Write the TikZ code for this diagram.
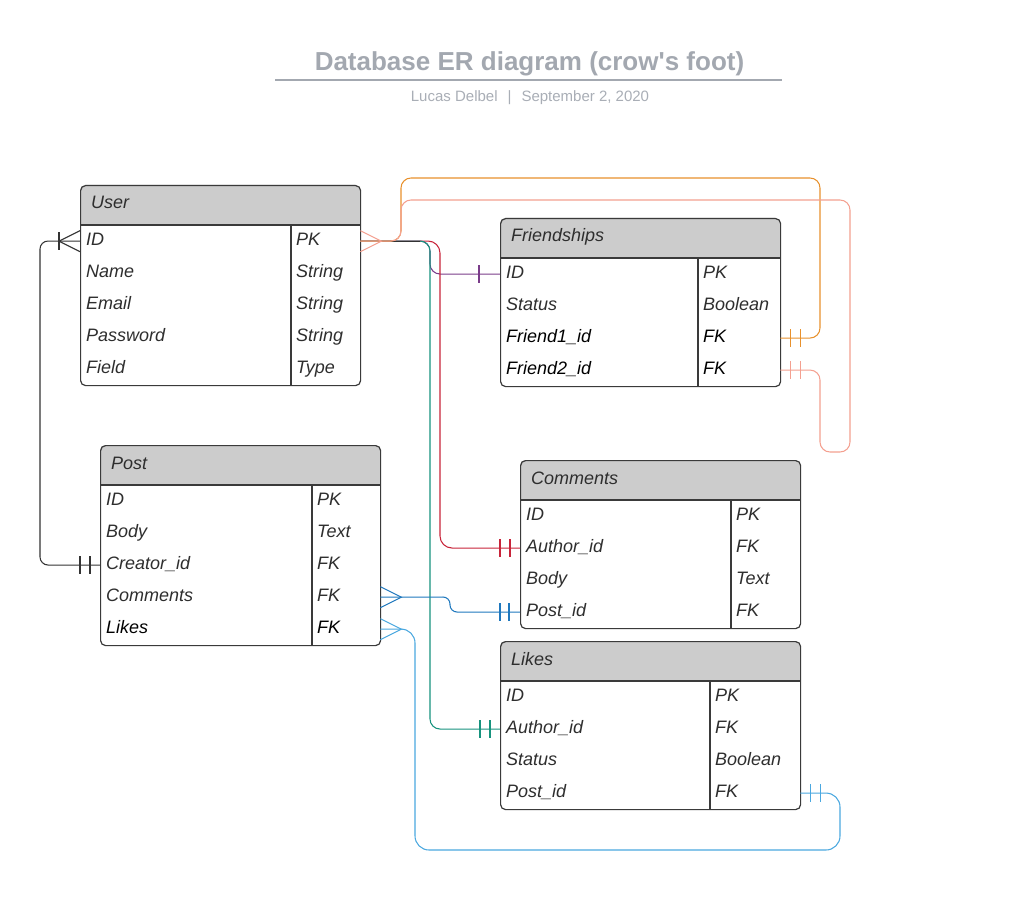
\documentclass[tikz,border=0pt]{standalone}
\usepackage{fontspec}
\setmainfont{Liberation Sans}
\usetikzlibrary{calc}
\definecolor{ink}{HTML}{2E2E2E}
\definecolor{headfill}{HTML}{CCCCCC}
\definecolor{frame}{HTML}{3A3A3A}
\definecolor{titlegray}{HTML}{A3A8B0}
\definecolor{subgray}{HTML}{A9AEB6}
\definecolor{corange}{HTML}{E8912D}
\definecolor{csalmon}{HTML}{F4A090}
\definecolor{cteal}{HTML}{17937E}
\definecolor{cred}{HTML}{C8243A}
\definecolor{cpurple}{HTML}{7A3C8A}
\definecolor{cblue}{HTML}{1F78BE}
\definecolor{clblue}{HTML}{4AA8E0}
\definecolor{cdark}{HTML}{333333}
\tikzset{
  tableframe/.style={draw=frame, line width=1.2pt, rounded corners=5pt, inner sep=0pt},
  tablerule/.style={draw=frame, line width=1.1pt},
  rowcell/.style={inner sep=0pt, minimum height=32pt},
  headtext/.style={inner sep=0pt, text=ink, font=\fontsize{18}{20}\selectfont\itshape},
  celltext/.style={inner sep=0pt, font=\fontsize{18}{20}\selectfont\itshape},
  conn/.style={line width=1.05pt},
  darkline/.style={conn, draw=cdark},
  orangeline/.style={conn, draw=corange},
  salmonline/.style={conn, draw=csalmon},
  tealline/.style={conn, draw=cteal},
  redline/.style={conn, draw=cred},
  purpleline/.style={conn, draw=cpurple},
  blueline/.style={conn, draw=cblue},
  lblueline/.style={conn, draw=clblue},
}
% #1 name, #2 x left, #3 y top, #4 width, #5 divider x, #6 number of rows, #7 header, #8 rows
\newcommand{\ertable}[8]{%
  \pgfmathsetmacro\ertxr{#2+#4}%
  \pgfmathsetmacro\ertyh{#3+40}%
  \pgfmathsetmacro\ertyb{#3+40+32*#6}%
  \pgfmathsetmacro\erth{40+32*#6}%
  \fill[white, rounded corners=5pt] (#2,#3) rectangle (\ertxr,\ertyb);
  \fill[headfill, rounded corners=5pt] (#2,#3) rectangle (\ertxr,\ertyh);
  \fill[headfill] (#2,{\ertyh-7}) rectangle (\ertxr,\ertyh);
  \node[tableframe, minimum width=#4pt, minimum height=\erth pt, anchor=north west] (#1) at (#2,#3) {};
  \draw[tablerule] (#2,\ertyh) -- (\ertxr,\ertyh);
  \draw[tablerule] (#5,\ertyh) -- (#5,\ertyb);
  \node[headtext, anchor=base west] (#1-head) at ({#2+11},{#3+24}) {#7};
  \foreach[count=\i] \f/\t/\c in {#8} {
    \pgfmathsetmacro\ertrow{#3+40+32*(\i-1)}
    \node[rowcell, minimum width=#4pt, anchor=north west] (#1-\i) at (#2,\ertrow) {};
    \node[celltext, text=\c, anchor=base west] (#1-\i-f) at ({#2+6},{\ertrow+20.5}) {\f};
    \node[celltext, text=\c, anchor=base west] (#1-\i-t) at ({#5+5},{\ertrow+20.5}) {\t};
  }%
}
% one vertical bar: #1 style, #2 xshift, #3 anchor
\newcommand{\onebar}[3]{\draw[#1] ([xshift=#2pt,yshift=9pt]#3) -- ([xshift=#2pt,yshift=-9pt]#3);}
% crow's foot: #1 style, #2 xshift of the tip, #3 anchor
\newcommand{\crowfoot}[3]{\draw[#1] ([yshift=10.5pt]#3) -- ([xshift=#2pt]#3) -- ([yshift=-10.5pt]#3);}
\begin{document}
\begin{tikzpicture}[x=1pt,y=-1pt]
\useasboundingbox (0,0) rectangle (1014,909);
\fill[white] (0,0) rectangle (1014,909);

% title
\node[inner sep=0pt, anchor=base, text=titlegray, font=\fontsize{26}{30}\selectfont\bfseries] (title) at (529.5,71) {Database ER diagram (crow\textquotesingle s foot)};
\coordinate (ulL) at (275,80);
\coordinate (ulR) at (782,80);
\draw[titlegray, line width=1.8pt] (ulL) -- (ulR);
\node[inner sep=0pt, anchor=base, text=subgray, font=\fontsize{15}{18}\selectfont] (subtitle) at (530,102) {Lucas Delbel\hspace{10pt}|\hspace{10pt}September 2, 2020};

% tables
\ertable{user}{80}{185}{280}{291}{5}{User}{ID/PK/ink, Name/String/ink, Email/String/ink, Password/String/ink, Field/Type/ink}
\ertable{fr}{500}{218}{280}{698}{4}{Friendships}{ID/PK/ink, Status/Boolean/ink, Friend1\_id/FK/black, Friend2\_id/FK/black}
\ertable{post}{100}{445}{280}{312}{5}{Post}{ID/PK/ink, Body/Text/ink, Creator\_id/FK/ink, Comments/FK/ink, Likes/FK/black}
\ertable{comments}{520}{460}{280}{731}{4}{Comments}{ID/PK/ink, Author\_id/FK/ink, Body/Text/ink, Post\_id/FK/ink}
\ertable{likes}{500}{641}{300}{710}{4}{Likes}{ID/PK/ink, Author\_id/FK/ink, Status/Boolean/ink, Post\_id/FK/ink}

% User.ID -> Friendships.ID (purple)
\draw[purpleline, rounded corners=10pt] (user-1.east) -- (430,241) -- (430,274) -- (fr-1.west);
\onebar{purpleline}{-21}{fr-1.west}

% User.ID -> Comments.Author_id (red)
\draw[redline, rounded corners=12pt] (user-1.east) -- (440,241) -- (440,548) -- (comments-2.west);
\onebar{redline}{-20}{comments-2.west}
\onebar{redline}{-10}{comments-2.west}

% User.ID -> Likes.Author_id (teal)
\draw[tealline, rounded corners=10pt] (user-1.east) -- (430,241) -- (430,729) -- (likes-2.west);
\onebar{tealline}{-20}{likes-2.west}
\onebar{tealline}{-10}{likes-2.west}

% shared dark segment
\draw[darkline] ([xshift=21pt]user-1.east) -- ([xshift=60pt]user-1.east);

% User.ID -> Friendships.Friend1_id (orange)
\draw[orangeline, rounded corners=10pt] (user-1.east) -- (401,241) -- (401,178) -- (820,178) -- (820,338) -- (fr-3.east);
\onebar{orangeline}{10}{fr-3.east}
\onebar{orangeline}{20}{fr-3.east}

% User.ID -> Friendships.Friend2_id (salmon)
\draw[salmonline, rounded corners=10pt] (user-1.east) -- (401,241) -- (401,200) -- (850,200) -- (850,452) -- (820,452) -- (820,370) -- (fr-4.east);
\onebar{salmonline}{10}{fr-4.east}
\onebar{salmonline}{20}{fr-4.east}
\crowfoot{salmonline}{21}{user-1.east}

% User.ID -> Post.Creator_id (dark)
\draw[darkline, rounded corners=8pt] (user-1.west) -- (40,241) -- (40,565) -- (post-3.west);
\crowfoot{darkline}{-21}{user-1.west}
\onebar{darkline}{-21}{user-1.west}
\onebar{darkline}{-20}{post-3.west}
\onebar{darkline}{-10}{post-3.west}

% Post.Comments -> Comments.Post_id (blue)
\draw[blueline, rounded corners=7pt] (post-4.east) -- (450,597) -- (450,612) -- (comments-4.west);
\crowfoot{blueline}{21}{post-4.east}
\onebar{blueline}{-20}{comments-4.west}
\onebar{blueline}{-11}{comments-4.west}

% Post.Likes -> Likes.Post_id (light blue)
\draw[lblueline, rounded corners=14pt] (post-5.east) -- (415,629) -- (415,850) -- (840,850) -- (840,793) -- (likes-4.east);
\crowfoot{lblueline}{21}{post-5.east}
\onebar{lblueline}{10}{likes-4.east}
\onebar{lblueline}{20}{likes-4.east}
\end{tikzpicture}
\end{document}
